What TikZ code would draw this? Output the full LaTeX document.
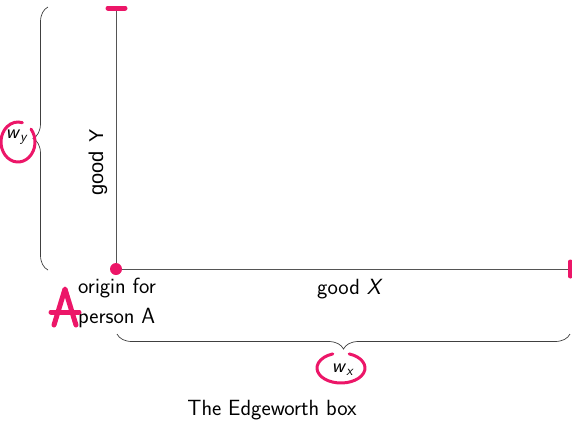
\documentclass[tikz,border=0pt]{standalone}
\usepackage{fontspec}
\newfontfamily\arialfont{Liberation Sans}
\usetikzlibrary{decorations.pathreplacing}
\definecolor{ink}{RGB}{236,22,104}
\definecolor{axisgray}{RGB}{85,85,85}
\tikzset{
  axis/.style={draw=axisgray,line width=1pt},
  bracket/.style={draw=black!75,line width=0.7pt,decorate,decoration={brace,amplitude=15pt}},
  pen/.style={draw=ink,line width=5pt,line cap=round,line join=round},
  loop/.style={draw=ink,line width=3pt,line cap=round},
}

\begin{document}
\begin{tikzpicture}[x=1pt,y=-1pt,font=\fontsize{22}{30}\selectfont\sffamily]
\useasboundingbox (0,0) rectangle (572,424);
% axes of the box
\coordinate (O) at (116,269);
\coordinate (Ytop) at (116,8);
\coordinate (Xend) at (570,269);
\draw[axis] (Ytop) -- (O) -- (Xend);
\node[rotate=90,font=\fontsize{20}{24}\selectfont\arialfont] (goodY) at (98,162) {good\, Y};
\node (goodX) at (350,289) {good \textit{X}};
\node[align=left] (origin) at (117,303) {origin for\\person A};
% endowment braces
\coordinate (wyb) at (48,270);
\coordinate (wyt) at (48,7);
\coordinate (wxl) at (117,334);
\coordinate (wxr) at (570,334);
\draw[bracket] (wyb) -- (wyt);
\draw[bracket] (wxr) -- (wxl);
\node[font=\fontsize{20}{24}\selectfont\sffamily] (wy) at (17,137) {\textit{w}\textsubscript{\textit{y}}};
\node[font=\fontsize{20}{24}\selectfont\sffamily] (wx) at (343,370) {\textit{w}\textsubscript{\textit{x}}};
\node (title) at (272,410) {The Edgeworth box};
% hand marks
\fill[ink] (O) circle (6);
\draw[pen] ([xshift=-8]Ytop) -- ([xshift=9]Ytop);
\draw[pen] ([yshift=-7]Xend) -- ([yshift=7]Xend);
\draw[loop] ([shift={(-40:17 and 20)}]18,142) arc[start angle=-40,end angle=285,x radius=17,y radius=20];
\draw[loop] ([shift={(-70:24 and 15)}]341,368) arc[start angle=-70,end angle=250,x radius=24,y radius=15];
\draw[pen] (54,325) -- (65,289) -- (76,325);
\draw[pen] (51,312) -- (79,312);
\end{tikzpicture}
\end{document}
